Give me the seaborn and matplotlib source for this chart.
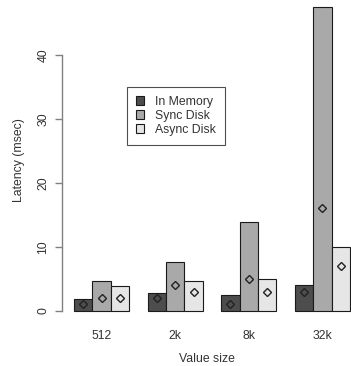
import matplotlib
matplotlib.use("Agg")
import matplotlib.pyplot as plt
import numpy as np
import pandas as pd
import seaborn as sns

# values
sizes = ["512", "2k", "8k", "32k"]
series = ["In Memory", "Sync Disk", "Async Disk"]
bar_mem = [1.9, 2.8, 2.5, 4.0]
bar_sync = [4.65, 7.55, 13.9, 47.5]
bar_async = [3.9, 4.65, 4.9, 9.9]
mark_mem = [1, 2, 1, 3]
mark_sync = [2, 4, 5, 16]
mark_async = [2, 3, 3, 7]
colors = ["#4d4d4d", "#a9a9a9", "#e6e6e6"]

rows = []
for name, bars, marks in zip(series, [bar_mem, bar_sync, bar_async],
                             [mark_mem, mark_sync, mark_async]):
    for s, b, m in zip(sizes, bars, marks):
        rows.append({"size": s, "series": name, "latency": b, "marker": m})
df = pd.DataFrame(rows)

sns.set_style("white")
plt.rcParams["font.family"] = ["Liberation Sans", "DejaVu Sans"]
plt.rcParams["font.size"] = 8.8

fig = plt.figure(figsize=(3.51, 3.66), dpi=100)
ax = fig.add_axes([62 / 351, 46 / 366, 289 / 351, 320 / 366])

sns.barplot(data=df, x="size", y="latency", hue="series", order=sizes,
            hue_order=series, palette=colors, width=0.75, gap=0,
            edgecolor="#1a1a1a", linewidth=0.8, saturation=1, ax=ax)
sns.pointplot(data=df, x="size", y="marker", hue="series", order=sizes,
              hue_order=series, palette=["#222222"] * 3, dodge=0.5,
              linestyle="none", markers="D", errorbar=None, legend=False,
              markersize=4.2, markeredgewidth=1.0, markerfacecolor="none",
              markeredgecolor="#222222", ax=ax)

ax.set_xlim(-0.5375, 3.3875)
ax.set_ylim(-1.46, 48.62)
ax.set_yticks([0, 10, 20, 30, 40])
for sp in ["top", "right", "bottom"]:
    ax.spines[sp].set_visible(False)
ax.spines["left"].set_bounds(0, 40)
ax.spines["left"].set_color("#808080")
ax.spines["left"].set_linewidth(1.0)
ax.tick_params(axis="y", length=5, width=1.0, color="#808080", pad=4,
               labelcolor="#333333", left=True)
for lbl in ax.get_yticklabels():
    lbl.set_rotation(90)
    lbl.set_va("center")
ax.tick_params(axis="x", length=0, pad=7, labelcolor="#333333")
ax.set_xlabel("Value size", color="#333333", labelpad=8)
ax.set_ylabel("Latency (msec)", color="#333333", labelpad=9)

handles, labels = ax.get_legend_handles_labels()
leg = ax.legend(handles[:3], labels[:3], loc="upper left",
                bbox_to_anchor=(126.7 / 351, 1 - 86.7 / 366),
                bbox_transform=fig.transFigure, borderaxespad=0,
                frameon=True, fancybox=False, borderpad=0.75,
                handlelength=0.7, handleheight=0.7, handletextpad=0.9,
                labelspacing=0.15)
leg.get_frame().set_edgecolor("#222222")
leg.get_frame().set_linewidth(0.8)
for t in leg.get_texts():
    t.set_color("#333333")

fig.savefig("out.png", dpi=100)
